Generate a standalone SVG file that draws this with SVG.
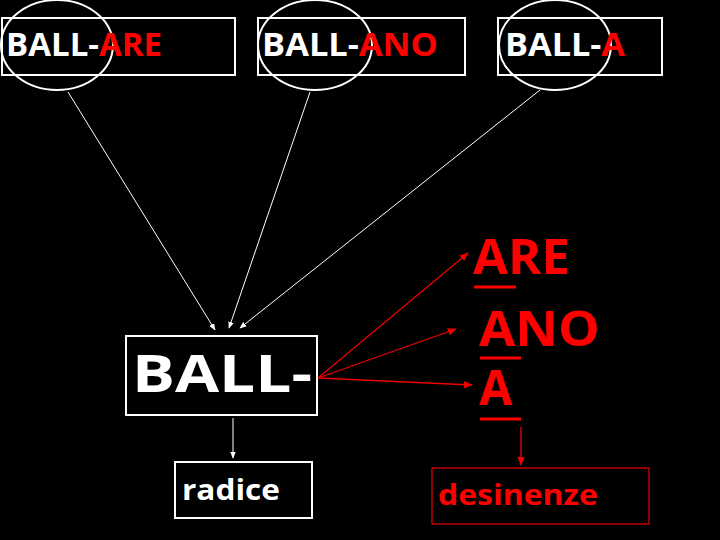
<svg xmlns="http://www.w3.org/2000/svg" width="720" height="540" viewBox="0 0 720 540">
<defs>
<marker id="aw" viewBox="0 0 10 10" refX="9" refY="5" markerWidth="7" markerHeight="7" orient="auto"><path d="M0,1 L10,5 L0,9 z" fill="#fff"/></marker>
<marker id="ar" viewBox="0 0 10 10" refX="9" refY="5" markerWidth="7" markerHeight="7" orient="auto"><path d="M0,1 L10,5 L0,9 z" fill="#e00"/></marker>
<style>
.t{font-family:"Open Sans","Liberation Sans",sans-serif;font-weight:bold;fill:#fff}
.r{fill:#f00}
.box{fill:none;stroke:#fff;stroke-width:2}
.ell{fill:none;stroke:#fff;stroke-width:2}
.cw{stroke:#fff;stroke-width:1;fill:none;marker-end:url(#aw)}
.cr{stroke:#e00;stroke-width:1.3;fill:none;marker-end:url(#ar)}
.u{stroke:#f00;stroke-width:3}
</style>
</defs>
<rect width="720" height="540" fill="#000"/>
<g id="n1"><rect class="box" x="2" y="18" width="233" height="57"/><ellipse class="ell" cx="57" cy="45" rx="56" ry="45"/><text class="t" x="6" y="56" font-size="32" textLength="156" lengthAdjust="spacingAndGlyphs">BALL-<tspan class="r">ARE</tspan></text></g>
<g id="n2"><rect class="box" x="258" y="18" width="207" height="57"/><ellipse class="ell" cx="315" cy="45" rx="57" ry="45"/><text class="t" x="262" y="56" font-size="32" textLength="176" lengthAdjust="spacingAndGlyphs">BALL-<tspan class="r">ANO</tspan></text></g>
<g id="n3"><rect class="box" x="498" y="18" width="164" height="57"/><ellipse class="ell" cx="555" cy="45" rx="56" ry="45"/><text class="t" x="505" y="56" font-size="32" textLength="120" lengthAdjust="spacingAndGlyphs">BALL-<tspan class="r">A</tspan></text></g>
<g id="n4"><rect class="box" x="126" y="336" width="191" height="79" stroke-width="1.5"/><text class="t" x="132" y="392" font-size="52" textLength="180" lengthAdjust="spacingAndGlyphs">BALL-</text></g>
<g id="n5"><rect class="box" x="175" y="462" width="137" height="56" stroke-width="1.2"/><text class="t" x="182" y="500" font-size="29" textLength="98" lengthAdjust="spacingAndGlyphs">radice</text></g>
<g id="n6"><rect x="432" y="468" width="217" height="56" fill="none" stroke="#e00" stroke-width="1.2"/><text class="t r" x="438" y="505" font-size="29" textLength="160" lengthAdjust="spacingAndGlyphs">desinenze</text></g>
<g id="n7" font-size="48">
<text class="t r" x="473" y="274" textLength="97" lengthAdjust="spacingAndGlyphs">ARE</text><line class="u" x1="474" y1="287" x2="516" y2="287"/>
<text class="t r" x="479" y="346" textLength="121" lengthAdjust="spacingAndGlyphs">ANO</text><line class="u" x1="480" y1="358" x2="521" y2="358"/>
<text class="t r" x="479" y="405">A</text><line class="u" x1="480" y1="419" x2="521" y2="419"/>
</g>
<g id="connectors">
<line class="cw" x1="68" y1="92" x2="215" y2="330"/>
<line class="cw" x1="310" y1="92" x2="229" y2="328"/>
<line class="cw" x1="540" y1="90" x2="240" y2="328"/>
<line class="cw" x1="233" y1="418" x2="233" y2="458"/>
<line class="cr" x1="318" y1="378" x2="468" y2="253"/>
<line class="cr" x1="318" y1="378" x2="456" y2="329"/>
<line class="cr" x1="318" y1="378" x2="472" y2="385"/>
<line class="cr" x1="521" y1="427" x2="521" y2="465"/>
</g>
</svg>
